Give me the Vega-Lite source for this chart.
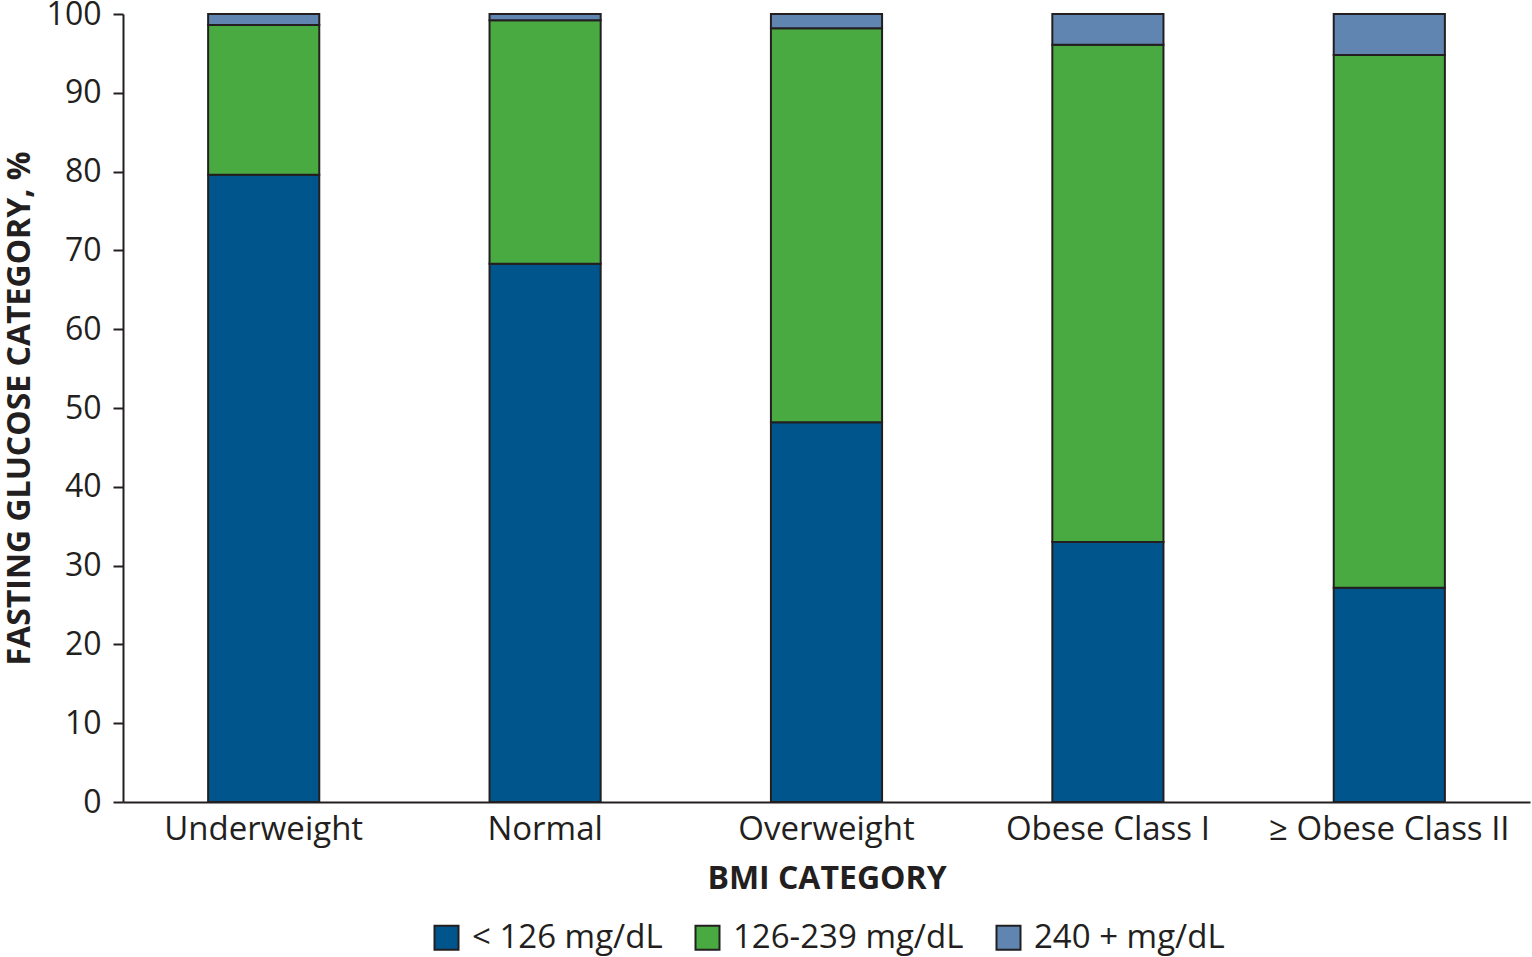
{
  "$schema": "https://vega.github.io/schema/vega-lite/v6.json",
  "width": 1407,
  "height": 788,
  "autosize": {"type": "none"},
  "padding": {"left": 123, "top": 14, "right": 2, "bottom": 155},
  "background": "white",
  "config": {
    "view": {"stroke": null},
    "font": "Open Sans",
    "axis": {"labelColor": "#231F20", "titleColor": "#231F20", "domainColor": "#231F20", "tickColor": "#231F20", "domainWidth": 2, "tickWidth": 2, "grid": false}
  },
  "data": {
    "values": [
      {"bmi": "Underweight", "glucose": "< 126 mg/dL", "pct": 79.6, "ord": 1},
      {"bmi": "Underweight", "glucose": "126-239 mg/dL", "pct": 19.0, "ord": 2},
      {"bmi": "Underweight", "glucose": "240 + mg/dL", "pct": 1.4, "ord": 3},
      {"bmi": "Normal", "glucose": "< 126 mg/dL", "pct": 68.3, "ord": 1},
      {"bmi": "Normal", "glucose": "126-239 mg/dL", "pct": 30.9, "ord": 2},
      {"bmi": "Normal", "glucose": "240 + mg/dL", "pct": 0.8, "ord": 3},
      {"bmi": "Overweight", "glucose": "< 126 mg/dL", "pct": 48.2, "ord": 1},
      {"bmi": "Overweight", "glucose": "126-239 mg/dL", "pct": 50.0, "ord": 2},
      {"bmi": "Overweight", "glucose": "240 + mg/dL", "pct": 1.8, "ord": 3},
      {"bmi": "Obese Class I", "glucose": "< 126 mg/dL", "pct": 33.0, "ord": 1},
      {"bmi": "Obese Class I", "glucose": "126-239 mg/dL", "pct": 63.1, "ord": 2},
      {"bmi": "Obese Class I", "glucose": "240 + mg/dL", "pct": 3.9, "ord": 3},
      {"bmi": "≥ Obese Class II", "glucose": "< 126 mg/dL", "pct": 27.2, "ord": 1},
      {"bmi": "≥ Obese Class II", "glucose": "126-239 mg/dL", "pct": 67.6, "ord": 2},
      {"bmi": "≥ Obese Class II", "glucose": "240 + mg/dL", "pct": 5.2, "ord": 3}
    ]
  },
  "mark": {"type": "bar", "stroke": "#231F20", "strokeWidth": 2},
  "encoding": {
    "x": {
      "field": "bmi", "type": "nominal",
      "sort": ["Underweight", "Normal", "Overweight", "Obese Class I", "≥ Obese Class II"],
      "scale": {"paddingInner": 0.605, "paddingOuter": 0.3025},
      "axis": {"title": "BMI CATEGORY", "labelAngle": 0, "ticks": false, "labelFontSize": 33, "labelPadding": 11, "labelLimit": 400, "titleFontSize": 32, "titleFontWeight": "bold", "titlePadding": 17}
    },
    "y": {
      "field": "pct", "type": "quantitative", "stack": "zero",
      "scale": {"domain": [0, 100], "nice": false},
      "axis": {"title": "FASTING GLUCOSE CATEGORY, %", "values": [0, 10, 20, 30, 40, 50, 60, 70, 80, 90, 100], "tickSize": 10, "labelFontSize": 32, "labelPadding": 12, "titleFontSize": 32, "titleFontWeight": "bold", "titlePadding": 10}
    },
    "color": {
      "field": "glucose", "type": "nominal",
      "sort": ["< 126 mg/dL", "126-239 mg/dL", "240 + mg/dL"],
      "scale": {"domain": ["< 126 mg/dL", "126-239 mg/dL", "240 + mg/dL"], "range": ["#00558C", "#4AAA42", "#6085B1"]},
      "legend": {"title": null, "orient": "none", "direction": "horizontal", "legendX": 307, "legendY": 907, "symbolType": "square", "symbolSize": 576, "symbolStrokeColor": "#231F20", "symbolStrokeWidth": 2, "symbolOpacity": 1, "labelFontSize": 33, "labelColor": "#231F20", "labelOffset": 9, "columnPadding": 28, "padding": 0, "labelLimit": 400}
    },
    "order": {"field": "ord", "type": "quantitative"}
  }
}
